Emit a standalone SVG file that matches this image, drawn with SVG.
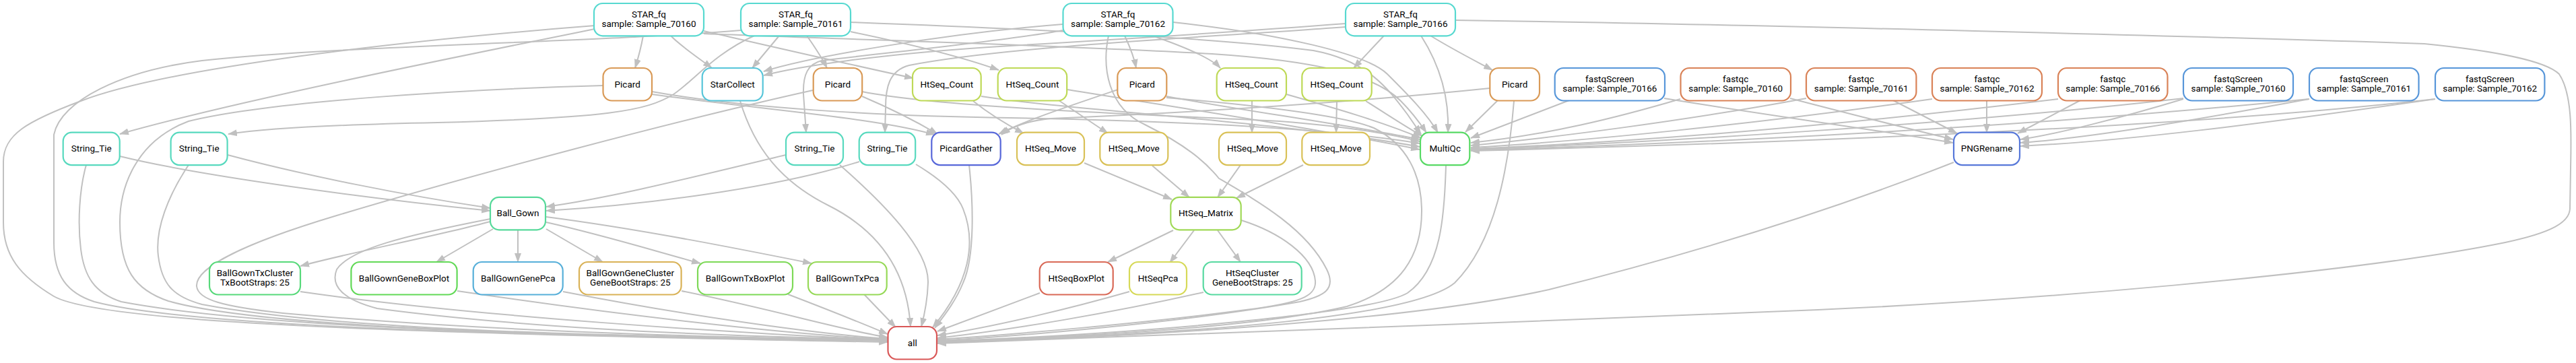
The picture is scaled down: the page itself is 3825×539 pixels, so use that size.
<svg xmlns="http://www.w3.org/2000/svg" width="3825" height="539" viewBox="0 0 3825 539">
<style>
.node rect{fill:#fff;stroke-width:2.2}
text{font-family:Roboto,"Liberation Sans",sans-serif;font-size:13.5px;fill:#000;text-anchor:middle}
.edges path{fill:none;stroke:#c0c0c0;stroke-width:2;marker-end:url(#ah)}
.star{stroke:#57d9d0}.picard{stroke:#d99a57}.sc{stroke:#57c5d9}.tie{stroke:#57d9be}
.hcount{stroke:#bed957}.hmove{stroke:#d9c157}.pg{stroke:#5767d9}.mq{stroke:#57d964}
.fqs{stroke:#5796d9}.fqc{stroke:#d98257}.png{stroke:#5778d9}.bg{stroke:#57d99a}
.btc{stroke:#57d97a}.bgb{stroke:#62d957}.bgp{stroke:#57afd9}.bgc{stroke:#d9b257}
.btb{stroke:#7dd957}.btp{stroke:#96d957}.hm{stroke:#a0d957}.hbp{stroke:#d96957}
.hp{stroke:#d6d957}.hcl{stroke:#57d9a0}.all{stroke:#d95757}
</style>
<defs>
<marker id="ah" markerWidth="14" markerHeight="10" refX="13" refY="5" orient="auto" markerUnits="userSpaceOnUse"><path d="M0,0 L14,5 L0,10 z" fill="#c0c0c0"/></marker>
</defs>
<rect width="3825" height="539" fill="#fff"/>
<g class="edges">
<!-- STAR_fq 70160 -->
<path d="M955,53 C952,70 948,85 943,101"/>
<path d="M996,53 C1010,68 1040,88 1057,101"/>
<path d="M1045,46 C1150,70 1280,100 1356,116"/>
<path d="M883,43 C700,80 350,150 178,199"/>
<path d="M883,38 C600,60 250,100 120,150 C40,180 5,200 5,240 L5,330 C5,380 30,410 80,440 C150,480 600,495 1318,508"/>
<path d="M1045,50 C1300,60 1600,68 1800,80 C1950,90 2040,110 2080,150 C2100,170 2110,185 2118,197"/>
<!-- STAR_fq 70161 -->
<path d="M1157,53 L1117,101"/>
<path d="M1198,53 C1210,70 1220,85 1228,101"/>
<path d="M1263,47 C1350,65 1430,85 1483,104"/>
<path d="M1120,53 C1060,80 1030,120 1000,140 C960,165 900,175 650,182 C500,185 400,190 339,199"/>
<path d="M1263,33 C1500,42 1800,55 1950,75 C2030,90 2060,130 2090,170 L2110,199"/>
<path d="M1100,45 C900,62 500,68 300,90 C180,105 90,150 80,200 L80,360 C80,410 100,435 140,448 C300,490 900,500 1318,506"/>
<!-- STAR_fq 70162 -->
<path d="M1670,53 C1678,70 1684,85 1687,101"/>
<path d="M1711,53 C1760,70 1800,88 1812,101"/>
<path d="M1578,36 C1400,50 1200,85 1134,106"/>
<path d="M1578,45 C1500,60 1300,80 1220,90 C1200,95 1192,110 1193,140 L1197,197"/>
<path d="M1742,33 C1900,50 2030,80 2060,110 C2090,140 2120,170 2135,197"/>
<path d="M1646,53 C1636,100 1645,160 1700,185 C1760,215 1790,240 1810,265 C1870,300 1940,340 1970,400 C1985,430 1965,440 1930,448 C1750,480 1500,500 1392,506"/>
<!-- STAR_fq 70166 -->
<path d="M2055,53 L2010,101"/>
<path d="M2124,53 C2160,75 2190,90 2216,104"/>
<path d="M2110,53 C2140,100 2152,150 2150,197"/>
<path d="M1998,35 C1800,50 1600,62 1500,68 C1300,80 1180,100 1134,112"/>
<path d="M1998,40 C1800,55 1500,68 1350,97 C1320,105 1315,130 1315,160 L1314,197"/>
<path d="M2161,30 C2600,36 3300,55 3600,65 C3700,75 3780,90 3800,110 C3820,140 3818,200 3817,250 L3816,310 C3815,330 3790,345 3720,360 C3500,405 3000,450 2600,464 C2200,480 1700,500 1392,510"/>
<!-- Picard -->
<path d="M968,140 C1150,165 1300,175 1388,200"/>
<path d="M1280,143 C1320,160 1360,180 1392,199"/>
<path d="M1660,133 C1580,160 1520,180 1483,199"/>
<path d="M2212,131 C1950,158 1700,170 1560,176 C1520,180 1500,190 1487,200"/>
<path d="M968,136 C1100,160 1300,172 1500,175 C1800,180 2000,195 2108,213"/>
<path d="M1280,136 C1400,160 1700,170 1900,180 C2000,188 2070,200 2108,210"/>
<path d="M1732,143 C1850,165 2000,185 2108,207"/>
<path d="M2224,149 L2176,196"/>
<path d="M896,127 C700,132 400,150 280,180 C200,210 178,280 178,330 C178,400 200,430 250,447 C400,490 900,500 1318,505"/>
<path d="M1207,134 C1000,180 700,260 500,320 C350,365 290,400 292,425 C294,445 330,455 420,465 C700,490 1000,500 1318,505"/>
<path d="M1732,145 C1850,155 1990,170 2040,190 C2090,215 2110,260 2111,310 C2112,380 2080,430 2000,455 C1850,490 1550,502 1392,507"/>
<path d="M2248,150 C2240,250 2220,360 2160,420 C2100,470 1800,495 1392,508"/>
<!-- HtSeq_Count -->
<path d="M1445,150 C1470,170 1495,185 1520,198"/>
<path d="M1572,149 L1645,198"/>
<path d="M1859,150 L1859,197"/>
<path d="M1985,150 L1984,197"/>
<path d="M1457,143 C1600,165 1900,180 2108,218"/>
<path d="M1585,133 C1750,160 1950,190 2108,222"/>
<path d="M1910,140 C1980,160 2050,180 2110,205"/>
<path d="M2028,150 C2060,170 2090,190 2112,202"/>
<!-- HtSeq_Move -> Matrix -->
<path d="M1610,242 L1740,296"/>
<path d="M1711,246 L1766,293"/>
<path d="M1842,245 L1808,293"/>
<path d="M1935,245 L1836,294"/>
<!-- HtSeq_Matrix -->
<path d="M1742,342 L1645,389"/>
<path d="M1773,342 L1737,390"/>
<path d="M1808,342 L1842,389"/>
<path d="M1843,327 C1900,345 1950,380 1953,417 C1955,440 1930,450 1850,460 C1700,480 1500,497 1392,504"/>
<path d="M1544,435 L1392,492"/>
<path d="M1677,433 C1600,455 1480,485 1392,498"/>
<path d="M1787,434 C1650,465 1500,490 1392,502"/>
<!-- String_Tie -->
<path d="M178,232 C300,262 550,295 728,313"/>
<path d="M338,230 C450,260 600,290 728,309"/>
<path d="M1167,230 C1000,270 900,295 811,307"/>
<path d="M1276,240 C1150,280 950,305 811,313"/>
<path d="M128,245 C118,280 115,330 120,370 C125,410 140,435 180,448 C400,490 900,500 1318,506"/>
<path d="M280,245 C250,290 230,340 235,380 C240,420 255,440 300,452 C500,490 900,500 1318,505"/>
<path d="M1247,245 C1310,300 1380,370 1378,420 C1377,450 1372,470 1368,485"/>
<path d="M1360,244 C1390,262 1420,285 1430,310 C1450,360 1440,420 1385,486"/>
<!-- StarCollect, PicardGather -->
<path d="M1099,150 C1120,220 1160,270 1230,305 C1320,350 1348,420 1352,485"/>
<path d="M1439,245 C1445,300 1448,380 1430,420 C1420,445 1405,465 1388,487"/>
<!-- Ball_Gown -->
<path d="M728,329 C650,350 520,375 446,395"/>
<path d="M732,340 L648,389"/>
<path d="M769,341 L769,389"/>
<path d="M811,340 L895,389"/>
<path d="M811,330 C900,350 980,375 1040,391"/>
<path d="M811,322 C950,340 1100,370 1205,391"/>
<path d="M728,325 C600,350 520,370 500,400 C490,425 510,445 560,458 C800,490 1100,500 1318,504"/>
<path d="M446,433 C700,470 1100,495 1318,505"/>
<path d="M679,432 C900,465 1150,495 1318,504"/>
<path d="M836,433 C1000,465 1200,495 1318,503"/>
<path d="M1012,432 C1150,460 1250,490 1318,501"/>
<path d="M1170,437 C1230,460 1280,480 1318,496"/>
<path d="M1283,437 L1330,486"/>
<!-- MultiQc, PNGRename -->
<path d="M2147,245 C2145,320 2140,400 2090,435 C2040,465 1700,495 1392,507"/>
<path d="M2901,241 C2700,320 2500,380 2300,430 C2100,475 1700,500 1392,509"/>
<!-- fastq -> MultiQc -->
<path d="M2330,149 L2184,205"/>
<path d="M2495,147 C2400,175 2300,200 2184,212"/>
<path d="M2682,146 C2500,180 2300,205 2184,216"/>
<path d="M2869,147 C2600,185 2350,210 2184,219"/>
<path d="M3056,147 C2700,190 2400,212 2184,221"/>
<path d="M3242,146 C2900,185 2450,212 2184,222"/>
<path d="M3429,147 C3000,190 2500,214 2184,223"/>
<path d="M3616,147 C3200,195 2500,216 2184,224"/>
<!-- fastq -> PNGRename -->
<path d="M2471,146 C2650,175 2800,195 2900,212"/>
<path d="M2658,146 C2750,170 2850,195 2900,207"/>
<path d="M2811,149 L2906,198"/>
<path d="M2950,149 L2950,197"/>
<path d="M3089,149 L2996,198"/>
<path d="M3242,147 C3150,175 3050,200 3000,207"/>
<path d="M3429,147 C3250,180 3100,205 3000,212"/>
<path d="M3616,147 C3350,185 3150,210 3000,217"/>
</g>
<g id="n_S0" class="node"><rect class="star" x="882" y="5" width="163" height="48.3" rx="13"/><text x="963.5" y="25.6">STAR_fq</text><text x="963.5" y="40">sample: Sample_70160</text></g>
<g id="n_S1" class="node"><rect class="star" x="1100" y="5" width="163" height="48.3" rx="13"/><text x="1181.5" y="25.6">STAR_fq</text><text x="1181.5" y="40">sample: Sample_70161</text></g>
<g id="n_S2" class="node"><rect class="star" x="1578.5" y="5" width="163" height="48.3" rx="13"/><text x="1660" y="25.6">STAR_fq</text><text x="1660" y="40">sample: Sample_70162</text></g>
<g id="n_S6" class="node"><rect class="star" x="1998" y="5" width="163" height="48.3" rx="13"/><text x="2079.5" y="25.6">STAR_fq</text><text x="2079.5" y="40">sample: Sample_70166</text></g>
<g id="n_PA" class="node"><rect class="picard" x="895.5" y="101" width="72.5" height="48.5" rx="13"/><text x="931.7" y="129.5">Picard</text></g>
<g id="n_SC" class="node"><rect class="sc" x="1042.7" y="101" width="90" height="48.5" rx="13"/><text x="1087.7" y="129.5">StarCollect</text></g>
<g id="n_PB" class="node"><rect class="picard" x="1207.7" y="101" width="72.5" height="48.5" rx="13"/><text x="1244" y="129.5">Picard</text></g>
<g id="n_HA" class="node"><rect class="hcount" x="1355" y="101" width="101.7" height="48.5" rx="13"/><text x="1405.8" y="129.5">HtSeq_Count</text></g>
<g id="n_HB" class="node"><rect class="hcount" x="1481.7" y="101" width="102.5" height="48.5" rx="13"/><text x="1533" y="129.5">HtSeq_Count</text></g>
<g id="n_PC" class="node"><rect class="picard" x="1659.3" y="101" width="73" height="48.5" rx="13"/><text x="1695.8" y="129.5">Picard</text></g>
<g id="n_HC" class="node"><rect class="hcount" x="1806.7" y="101" width="103.3" height="48.5" rx="13"/><text x="1858.3" y="129.5">HtSeq_Count</text></g>
<g id="n_HD" class="node"><rect class="hcount" x="1933.3" y="101" width="103.4" height="48.5" rx="13"/><text x="1985" y="129.5">HtSeq_Count</text></g>
<g id="n_PD" class="node"><rect class="picard" x="2212.3" y="101" width="73.7" height="48.5" rx="13"/><text x="2249.2" y="129.5">Picard</text></g>
<g id="n_FS6" class="node"><rect class="fqs" x="2308.7" y="101" width="163.3" height="48.5" rx="13"/><text x="2390.3" y="121.7">fastqScreen</text><text x="2390.3" y="136">sample: Sample_70166</text></g>
<g id="n_FC0" class="node"><rect class="fqc" x="2495.5" y="101" width="163.5" height="48.5" rx="13"/><text x="2577.2" y="121.7">fastqc</text><text x="2577.2" y="136">sample: Sample_70160</text></g>
<g id="n_FC1" class="node"><rect class="fqc" x="2682" y="101" width="163.4" height="48.5" rx="13"/><text x="2763.7" y="121.7">fastqc</text><text x="2763.7" y="136">sample: Sample_70161</text></g>
<g id="n_FC2" class="node"><rect class="fqc" x="2869" y="101" width="163" height="48.5" rx="13"/><text x="2950.5" y="121.7">fastqc</text><text x="2950.5" y="136">sample: Sample_70162</text></g>
<g id="n_FC6" class="node"><rect class="fqc" x="3056" y="101" width="162.5" height="48.5" rx="13"/><text x="3137.3" y="121.7">fastqc</text><text x="3137.3" y="136">sample: Sample_70166</text></g>
<g id="n_FS0" class="node"><rect class="fqs" x="3242" y="101" width="163" height="48.5" rx="13"/><text x="3323.5" y="121.7">fastqScreen</text><text x="3323.5" y="136">sample: Sample_70160</text></g>
<g id="n_FS1" class="node"><rect class="fqs" x="3429" y="101" width="162.5" height="48.5" rx="13"/><text x="3510.2" y="121.7">fastqScreen</text><text x="3510.2" y="136">sample: Sample_70161</text></g>
<g id="n_FS2" class="node"><rect class="fqs" x="3616" y="101" width="162.4" height="48.5" rx="13"/><text x="3697.2" y="121.7">fastqScreen</text><text x="3697.2" y="136">sample: Sample_70162</text></g>
<g id="n_TA" class="node"><rect class="tie" x="93.7" y="196.7" width="84" height="48.5" rx="13"/><text x="135.7" y="225.2">String_Tie</text></g>
<g id="n_TB" class="node"><rect class="tie" x="253.6" y="196.7" width="84" height="48.5" rx="13"/><text x="295.6" y="225.2">String_Tie</text></g>
<g id="n_TC" class="node"><rect class="tie" x="1167" y="196.7" width="85" height="48.5" rx="13"/><text x="1209.5" y="225.2">String_Tie</text></g>
<g id="n_TD" class="node"><rect class="tie" x="1275.7" y="196.7" width="83.5" height="48.5" rx="13"/><text x="1317.5" y="225.2">String_Tie</text></g>
<g id="n_PG" class="node"><rect class="pg" x="1383.3" y="196.7" width="102.4" height="48.5" rx="13"/><text x="1434.5" y="225.2">PicardGather</text></g>
<g id="n_MA" class="node"><rect class="hmove" x="1510" y="196.7" width="100" height="48.5" rx="13"/><text x="1560" y="225.2">HtSeq_Move</text></g>
<g id="n_MB" class="node"><rect class="hmove" x="1633.3" y="196.7" width="101" height="48.5" rx="13"/><text x="1683.8" y="225.2">HtSeq_Move</text></g>
<g id="n_MC" class="node"><rect class="hmove" x="1810" y="196.7" width="100" height="48.5" rx="13"/><text x="1860" y="225.2">HtSeq_Move</text></g>
<g id="n_MD" class="node"><rect class="hmove" x="1933.3" y="196.7" width="100.7" height="48.5" rx="13"/><text x="1983.7" y="225.2">HtSeq_Move</text></g>
<g id="n_MQ" class="node"><rect class="mq" x="2109" y="196.7" width="73.3" height="48.5" rx="13"/><text x="2145.7" y="225.2">MultiQc</text></g>
<g id="n_PNG" class="node"><rect class="png" x="2901" y="196.7" width="98" height="48.5" rx="13"/><text x="2950" y="225.2">PNGRename</text></g>
<g id="n_BG" class="node"><rect class="bg" x="728" y="292.8" width="82" height="48.5" rx="13"/><text x="769" y="321.3">Ball_Gown</text></g>
<g id="n_HM" class="node"><rect class="hm" x="1738.3" y="292.8" width="104.4" height="48.5" rx="13"/><text x="1790.5" y="321.3">HtSeq_Matrix</text></g>
<g id="n_BTC" class="node"><rect class="btc" x="311" y="389" width="135" height="48.5" rx="13"/><text x="378.5" y="409.7">BallGownTxCluster</text><text x="378.5" y="424">TxBootStraps: 25</text></g>
<g id="n_BGB" class="node"><rect class="bgb" x="521.4" y="389" width="157.2" height="48.5" rx="13"/><text x="600" y="417.5">BallGownGeneBoxPlot</text></g>
<g id="n_BGP" class="node"><rect class="bgp" x="702.7" y="389" width="133" height="48.5" rx="13"/><text x="769.2" y="417.5">BallGownGenePca</text></g>
<g id="n_BGC" class="node"><rect class="bgc" x="860" y="389" width="151.6" height="48.5" rx="13"/><text x="935.8" y="409.7">BallGownGeneCluster</text><text x="935.8" y="424">GeneBootStraps: 25</text></g>
<g id="n_BTB" class="node"><rect class="btb" x="1036" y="389" width="141" height="48.5" rx="13"/><text x="1106.5" y="417.5">BallGownTxBoxPlot</text></g>
<g id="n_BTP" class="node"><rect class="btp" x="1200" y="389" width="116.7" height="48.5" rx="13"/><text x="1258.3" y="417.5">BallGownTxPca</text></g>
<g id="n_HBP" class="node"><rect class="hbp" x="1543.7" y="389" width="109" height="48.5" rx="13"/><text x="1598.2" y="417.5">HtSeqBoxPlot</text></g>
<g id="n_HP" class="node"><rect class="hp" x="1677" y="389" width="85" height="48.5" rx="13"/><text x="1719.5" y="417.5">HtSeqPca</text></g>
<g id="n_HCL" class="node"><rect class="hcl" x="1786.7" y="389" width="146" height="48.5" rx="13"/><text x="1859.7" y="409.7">HtSeqCluster</text><text x="1859.7" y="424">GeneBootStraps: 25</text></g>
<g id="n_ALL" class="node"><rect class="all" x="1318.5" y="485" width="72.5" height="48.5" rx="13"/><text x="1354.8" y="513.5">all</text></g>
</svg>
